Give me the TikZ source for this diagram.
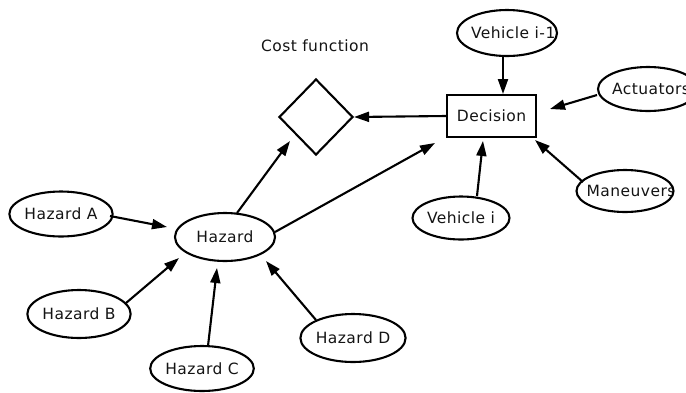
\documentclass[tikz,border=0pt]{standalone}
\usepackage{fontspec}
\setmainfont{DejaVu Sans}[LetterSpace=3]
\usetikzlibrary{shapes.geometric,arrows.meta}

\begin{document}
\begin{tikzpicture}[x=1pt,y=-1pt,
  txt/.style={font=\fontsize{15.5}{18}\selectfont, text=black!92, inner sep=0pt},
  cliptxt/.style={txt, shape=rectangle, draw=none, fill=none, minimum width=0pt, minimum height=0pt, anchor=west},
  ell/.style={ellipse, draw, line width=2.1pt, fill=white, inner sep=0pt, txt},
  box/.style={rectangle, draw, line width=2.1pt, fill=white, inner sep=0pt, txt},
  costshape/.style={diamond, draw, line width=2.1pt, fill=white, inner sep=0pt},
  arr/.style={line width=2.1pt, -{Triangle[length=15pt,width=10pt]}}
]
\useasboundingbox (0,0) rectangle (686,392);

% decision side
\node[box, minimum width=89pt, minimum height=42pt] (dec) at (491.5,116) {Decision};
\node[ell, minimum width=100pt, minimum height=46pt,
  path picture={\node[cliptxt] at ([xshift=13pt]path picture bounding box.west) {Vehicle i-1};}]
  (veh1) at (507,33) {};
\node[ell, minimum width=100pt, minimum height=44pt,
  path picture={\node[cliptxt] at ([xshift=13pt]path picture bounding box.west) {Actuators};}]
  (act) at (648,89) {};
\node[ell, minimum width=97pt, minimum height=42pt,
  path picture={\node[cliptxt] at ([xshift=9pt]path picture bounding box.west) {Maneuvers};}]
  (man) at (625,191) {};
\node[ell, minimum width=97pt, minimum height=43pt] (vehi) at (461,218) {Vehicle i};

% cost function
\node[costshape, minimum width=74pt, minimum height=76pt] (cost) at (316,117) {};
\node[txt] (costlbl) at (315,46) {Cost function};

% hazards
\node[ell, minimum width=100pt, minimum height=48pt] (hz) at (225,237) {Hazard};
\node[ell, minimum width=96pt, minimum height=45pt] (ha) at (61,214) {Hazard A};
\node[ell, minimum width=96pt, minimum height=48pt] (hb) at (79,314) {Hazard B};
\node[ell, minimum width=96pt, minimum height=45pt] (hc) at (202,368.5) {Hazard C};
\node[ell, minimum width=100pt, minimum height=48pt] (hd) at (353,338) {Hazard D};

% connectors into the decision box
\draw[arr] ([shift={(-4,24)}]veh1.center) -- ([shift={(11.5,-22)}]dec.center);
\draw[arr] ([shift={(-51,6)}]act.center) -- ([shift={(58.5,-7)}]dec.center);
\draw[arr] ([shift={(-42,-9)}]man.center) -- ([shift={(43.5,24)}]dec.center);
\draw[arr] ([shift={(16,-22)}]vehi.center) -- ([shift={(-8.5,25)}]dec.center);
\draw[arr] (dec.west) -- (cost.east);

% hazard links
\draw[arr] ([shift={(12,-24)}]hz.center) -- ([shift={(-26,24)}]cost.center);
\draw[arr] ([shift={(50,-5)}]hz.center) -- ([shift={(-56.5,27)}]dec.center);
\draw[arr] ([shift={(49,2)}]ha.center) -- ([shift={(-58,-10)}]hz.center);
\draw[arr] ([shift={(47,-11)}]hb.center) -- ([shift={(-46,21)}]hz.center);
\draw[arr] ([shift={(6,-22.5)}]hc.center) -- ([shift={(-8,31)}]hz.center);
\draw[arr] ([shift={(-37,-18)}]hd.center) -- ([shift={(41,24)}]hz.center);
\end{tikzpicture}
\end{document}
